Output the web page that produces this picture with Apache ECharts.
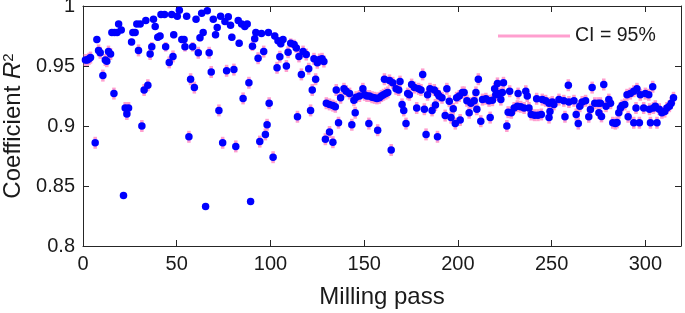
<!DOCTYPE html>
<html>
<head>
<meta charset="utf-8">
<title>Coefficient R2 per milling pass</title>
<script src="https://cdn.jsdelivr.net/npm/echarts@6/dist/echarts.min.js"></script>
<style>
	html,body{margin:0;padding:0;background:#fff;}
	#chart_box{width:685px;height:313px;}
</style>
</head>
<body>
<div id="chart_box"></div>
<script>
	// milling pass of each point
	var passes = [
		1.3, 2.3, 3.2, 4.0, 6.5, 7.4, 8.3, 9.2, 10.6, 11.9,
		12.7, 13.6, 14.7, 15.4, 16.5, 16.8, 18.2, 19.0, 20.4, 21.6,
		22.5, 23.4, 24.3, 25.9, 26.6, 27.8, 28.7, 29.6, 30.5, 31.4,
		32.6, 33.5, 34.6, 35.8, 36.7, 37.6, 38.5, 39.9, 41.1, 41.6,
		43.5, 44.1, 46.0, 47.3, 48.0, 48.4, 50.3, 51.4, 52.7, 53.9,
		54.4, 55.3, 56.5, 57.4, 58.5, 59.4, 60.3, 61.5, 62.4, 63.3,
		64.1, 65.4, 66.3, 67.3, 68.4, 69.5, 70.7, 71.6, 72.5, 73.4,
		74.5, 75.7, 76.6, 77.5, 78.7, 79.4, 80.5, 81.5, 82.8, 83.3,
		84.6, 85.4, 86.3, 87.6, 88.5, 89.4, 90.4, 91.6, 92.2, 93.4,
		94.3, 95.2, 96.4, 97.3, 98.2, 98.9, 99.3, 101.4, 102.3, 103.5,
		104.0, 105.0, 105.5, 106.7, 108.5, 109.4, 110.8, 112.6, 113.8, 114.4,
		115.2, 116.5, 117.4, 119.1, 120.4, 121.4, 122.3, 123.2, 124.1, 125.0,
		126.2, 127.5, 128.5, 129.3, 129.8, 131.5, 131.5, 133.3, 133.3, 134.6,
		135.1, 136.3, 137.4, 139.2, 140.4, 142.2, 143.4, 144.5, 145.2, 145.7,
		147.5, 149.3, 150.2, 151.5, 152.5, 152.8, 154.2, 155.5, 156.8, 157.2,
		158.1, 159.2, 160.3, 160.8, 161.5, 162.6, 163.5, 164.4, 165.2, 167.0,
		168.4, 169.1, 170.2, 171.1, 172.3, 173.2, 174.1, 175.3, 176.8, 178.0,
		179.0, 180.3, 181.2, 182.1, 183.0, 183.8, 185.1, 186.2, 187.4, 188.0,
		189.1, 189.1, 190.0, 191.5, 193.2, 194.1, 195.4, 196.3, 197.5, 198.6,
		199.3, 200.7, 201.2, 202.4, 203.3, 204.8, 206.0, 206.9, 208.7, 209.6,
		210.1, 210.9, 212.2, 213.1, 214.9, 216.6, 217.2, 218.4, 219.6, 220.2,
		221.1, 222.0, 222.9, 223.7, 224.3, 226.1, 226.8, 227.6, 228.5, 230.0,
		231.7, 232.1, 233.5, 235.3, 236.2, 237.0, 237.9, 239.1, 240.9, 242.0,
		242.7, 244.5, 245.0, 246.8, 248.6, 248.6, 249.1, 250.3, 251.2, 253.9,
		256.5, 257.1, 258.9, 259.2, 261.9, 263.1, 264.2, 265.0, 266.3, 268.1,
		269.8, 270.7, 271.6, 273.0, 274.8, 275.2, 276.0, 276.6, 277.8, 279.0,
		280.5, 281.4, 282.6, 284.0, 284.9, 285.8, 286.7, 287.6, 289.0, 290.2,
		290.8, 292.0, 293.8, 293.8, 295.0, 295.5, 296.8, 297.3, 299.1, 300.0,
		301.8, 302.2, 302.7, 303.9, 304.3, 305.3, 306.2, 307.4, 308.8, 310.3,
		311.5, 312.8, 313.8, 315.0
	];
	// coefficient R^2 of each point
	var r2 = [
		0.955, 0.955, 0.956, 0.957, 0.886, 0.972, 0.963, 0.961, 0.942, 0.955,
		0.954, 0.962, 0.960, 0.978, 0.927, 0.978, 0.978, 0.985, 0.980, 0.842,
		0.915, 0.910, 0.915, 0.970, 0.978, 0.978, 0.985, 0.963, 0.985, 0.900,
		0.930, 0.988, 0.934, 0.960, 0.966, 0.989, 0.983, 0.974, 0.975, 0.993,
		0.993, 0.966, 0.953, 0.993, 0.958, 0.976, 0.9915, 0.9965, 0.972, 0.972,
		0.966, 0.9915, 0.891, 0.939, 0.966, 0.932, 0.989, 0.961, 0.9735, 0.994,
		0.978, 0.833, 0.996, 0.961, 0.945, 0.989, 0.976, 0.982, 0.913, 0.9915,
		0.886, 0.987, 0.946, 0.991, 0.984, 0.974, 0.947, 0.883, 0.988, 0.969,
		0.985, 0.923, 0.983, 0.985, 0.936, 0.837, 0.9665, 0.9727, 0.978, 0.9565,
		0.887, 0.977, 0.962, 0.893, 0.901, 0.978, 0.919, 0.874, 0.975, 0.9485,
		0.971, 0.9577, 0.9685, 0.972, 0.950, 0.9615, 0.969, 0.968, 0.965, 0.9077,
		0.958, 0.943, 0.962, 0.9595, 0.9477, 0.913, 0.930, 0.956, 0.939, 0.9527,
		0.9554, 0.956, 0.9537, 0.889, 0.919, 0.918, 0.895, 0.917, 0.8865, 0.916,
		0.930, 0.9027, 0.9235, 0.931, 0.929, 0.927, 0.901, 0.9215, 0.911, 0.924,
		0.925, 0.931, 0.926, 0.925, 0.902, 0.925, 0.924, 0.9235, 0.923, 0.8965,
		0.9235, 0.925, 0.926, 0.939, 0.927, 0.928, 0.938, 0.880, 0.936, 0.931,
		0.930, 0.937, 0.918, 0.913, 0.902, 0.927, 0.926, 0.9345, 0.932, 0.915,
		0.931, 0.930, 0.943, 0.914, 0.893, 0.926, 0.931, 0.913, 0.930, 0.9175,
		0.927, 0.891, 0.925, 0.9235, 0.9087, 0.931, 0.9207, 0.907, 0.9143, 0.902,
		0.9235, 0.925, 0.905, 0.928, 0.928, 0.921, 0.911, 0.919, 0.921, 0.928,
		0.914, 0.939, 0.904, 0.922, 0.9227, 0.921, 0.907, 0.9215, 0.931, 0.926,
		0.9355, 0.927, 0.922, 0.928, 0.936, 0.900, 0.9115, 0.929, 0.911, 0.915,
		0.9165, 0.927, 0.916, 0.915, 0.929, 0.925, 0.915, 0.9096, 0.909, 0.9227,
		0.909, 0.9096, 0.922, 0.921, 0.907, 0.919, 0.912, 0.920, 0.918, 0.922,
		0.921, 0.9077, 0.934, 0.920, 0.921, 0.9096, 0.902, 0.9165, 0.920, 0.921,
		0.9077, 0.9137, 0.932, 0.919, 0.919, 0.911, 0.919, 0.908, 0.9346, 0.9165,
		0.922, 0.919, 0.9027, 0.902, 0.903, 0.911, 0.915, 0.917, 0.918, 0.926,
		0.9077, 0.927, 0.929, 0.9027, 0.915, 0.931, 0.9027, 0.926, 0.915, 0.927,
		0.926, 0.914, 0.9027, 0.9327, 0.915, 0.9165, 0.9027, 0.914, 0.911, 0.912,
		0.915, 0.9165, 0.919, 0.9235
	];
	// half width of the 95% confidence interval, in 0.001 units
	var ciHalf = [
		5, 5, 5, 5, 5, 3, 5, 5, 5, 5,
		5, 5, 5, 2, 5, 2, 2, 2, 2, 1,
		5, 5, 5, 3, 2, 2, 2, 5, 2, 5,
		5, 2, 5, 5, 4, 2, 2, 3, 3, 2,
		2, 4, 5, 2, 5, 3, 2, 2, 3, 3,
		4, 2, 5, 5, 4, 5, 2, 5, 3, 2,
		2, 1, 2, 5, 5, 2, 3, 2, 5, 2,
		5, 2, 5, 2, 2, 3, 5, 5, 2, 3,
		2, 5, 2, 2, 5, 1, 4, 3, 2, 5,
		5, 2, 5, 5, 5, 2, 5, 5, 3, 5,
		3, 5, 3, 3, 5, 5, 4, 4, 4, 5,
		5, 5, 5, 5, 5, 5, 5, 5, 5, 5,
		5, 5, 5, 5, 5, 5, 5, 5, 5, 5,
		5, 5, 5, 5, 5, 5, 5, 5, 5, 5,
		5, 5, 5, 5, 5, 5, 5, 5, 5, 5,
		5, 5, 5, 5, 5, 5, 5, 5, 5, 5,
		5, 5, 5, 5, 5, 5, 5, 5, 5, 5,
		5, 5, 5, 5, 5, 5, 5, 5, 5, 5,
		5, 5, 5, 5, 5, 5, 5, 5, 5, 5,
		5, 5, 5, 5, 5, 5, 5, 5, 5, 5,
		5, 5, 5, 5, 5, 5, 5, 5, 5, 5,
		5, 5, 5, 5, 5, 5, 5, 5, 5, 5,
		5, 5, 5, 5, 5, 5, 5, 5, 5, 5,
		5, 5, 5, 5, 5, 5, 5, 5, 5, 5,
		5, 5, 5, 5, 5, 5, 5, 5, 5, 5,
		5, 5, 5, 5, 5, 5, 5, 5, 5, 5,
		5, 5, 5, 5, 5, 5, 5, 5, 5, 5,
		5, 5, 5, 5, 5, 5, 5, 5, 5, 5,
		5, 5, 5, 5, 5, 5, 5, 5, 5, 5,
		5, 5, 5, 5
	];
	var xTicks = [0, 50, 100, 150, 200, 250, 300];
	var legendName = 'CI = 95%';

	var font = "'Liberation Sans', Arial, sans-serif";
	var axisColor = '#262626';
	var textColor = '#1a1a1a';
	var pink = '#ff9fcf';
	var blue = '#0000ff';

	var points = [];
	var bars = [];
	for (var i = 0; i < passes.length; i++) {
		points.push([passes[i], r2[i]]);
		bars.push([passes[i], r2[i], ciHalf[i] / 1000]);
	}

	//MATLAB like box axis, ticks inside
	function boxAxis(pos, isX, show) {
		var a = {
			type: 'value',
			position: pos,
			min: isX ? 0 : 0.8,
			max: isX ? 319 : 1,
			axisLine: {show: true, onZero: false, lineStyle: {color: axisColor, width: 1}},
			axisTick: {show: true, inside: true, length: 6, lineStyle: {color: axisColor, width: 1}},
			splitLine: {show: false},
			axisLabel: {
				show: show,
				color: textColor,
				fontFamily: font,
				fontSize: 20,
				margin: 8
			}
		};
		if (isX) {
			a.axisTick.customValues = xTicks;
			a.axisLabel.customValues = xTicks;
		} else {
			a.interval = 0.05;
		}
		return a;
	}

	var xBottom = boxAxis('bottom', true, true);
	xBottom.name = 'Milling pass';
	xBottom.nameLocation = 'middle';
	xBottom.nameGap = 39;
	xBottom.nameTextStyle = {color: textColor, fontFamily: font, fontSize: 24};

	var yLeft = boxAxis('left', false, true);
	yLeft.name = 'Coefficient {i|R}{s|2}';
	yLeft.nameLocation = 'middle';
	yLeft.nameGap = 56;
	yLeft.nameTextStyle = {
		color: textColor, fontFamily: font, fontSize: 24,
		rich: {
			i: {fontStyle: 'italic', fontFamily: font, fontSize: 24, color: textColor},
			s: {fontFamily: font, fontSize: 15, color: textColor, verticalAlign: 'top', padding: [0, 0, 9, 0]}
		}
	};

	var chart = echarts.init(document.getElementById('chart_box'), null, {renderer: 'canvas'});
	chart.setOption({
		animation: false,
		backgroundColor: '#fff',
		grid: {left: 83, right: 4, top: 6, bottom: 67, outerBoundsMode: 'none', containLabel: false},
		legend: {
			data: [{name: legendName, icon: 'rect'}],
			left: 498,
			top: 26,
			padding: 0,
			itemWidth: 72,
			itemHeight: 3,
			textStyle: {color: textColor, fontFamily: font, fontSize: 19.5}
		},
		xAxis: [xBottom, boxAxis('top', true, false)],
		yAxis: [yLeft, boxAxis('right', false, false)],
		series: [{
			name: legendName,
			type: 'custom',
			xAxisIndex: 0,
			yAxisIndex: 0,
			itemStyle: {color: pink},
			data: bars,
			z: 2,
			renderItem: function (params, api) {
				var x = api.value(0), y = api.value(1), h = api.value(2);
				var lo = api.coord([x, y - h]);
				var hi = api.coord([x, y + h]);
				return {
					type: 'line',
					shape: {x1: lo[0], y1: lo[1], x2: hi[0], y2: hi[1]},
					style: {stroke: pink, lineWidth: 3.5}
				};
			}
		}, {
			name: 'R2',
			type: 'scatter',
			xAxisIndex: 0,
			yAxisIndex: 0,
			symbol: 'circle',
			symbolSize: 7.5,
			itemStyle: {color: blue, opacity: 1},
			data: points,
			z: 3
		}]
	});
</script>
</body>
</html>
